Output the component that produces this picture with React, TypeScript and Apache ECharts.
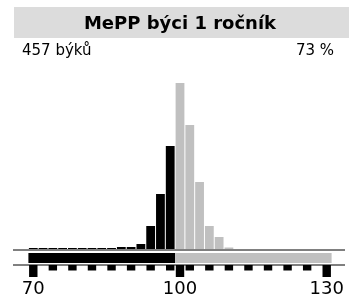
import React, { useEffect, useRef } from "react";
import * as echarts from "echarts";

const titleText = "MePP býci 1 ročník";
const countText = "457 býků";
const percentText = "73 %";

const categories = [
  "70", "72", "74", "76", "78", "80", "82", "84", "86", "88", "90", "92", "94", "96", "98",
  "100", "102", "104", "106", "108", "110", "112", "114", "116", "118", "120", "122", "124", "126", "128", "130",
];
const counts = [
  1, 1, 1, 1, 1, 1, 1, 1, 1, 2, 2, 5, 23, 55, 103,
  166, 124, 67, 23, 12, 1.5, 0, 0, 0, 0, 0, 0, 0, 0, 0, 0,
];
const splitValue = 100;
const rangeMin = 69;
const rangeSplit = 99;
const rangeMax = 131;
const minorTicks = ["70", "74", "78", "82", "86", "90", "94", "98", "102", "106", "110", "114", "118", "122", "126", "130"];
const majorTicks = ["70", "100", "130"];

const BLACK = "#000000";
const GRAY = "#c0c0c0";
const FONT = "DejaVu Sans";

export default function App() {
  const ref = useRef<HTMLDivElement>(null);
  useEffect(() => {
    if (!ref.current) return;
    const chart = echarts.init(ref.current, undefined, { renderer: "svg" });
    const sideColor = (c: string) => (Number(c) < splitValue ? BLACK : GRAY);
    const gridLeft = 28.4;
    const gridWidth = 303.2;
    const tickData = categories.map((c) =>
      majorTicks.includes(c) ? 12 : minorTicks.includes(c) ? 5.5 : 0
    );
    chart.setOption({
      animation: false,
      grid: [
        { left: gridLeft, width: gridWidth, top: 70, height: 179 },
        { left: gridLeft, width: gridWidth, top: 253, height: 10 },
        { left: gridLeft, width: gridWidth, top: 265, height: 12 },
      ],
      xAxis: [
        { type: "category", gridIndex: 0, data: categories, show: false },
        { type: "value", gridIndex: 1, min: rangeMin, max: rangeMax, show: false },
        {
          type: "category",
          gridIndex: 2,
          data: categories,
          axisLine: { show: false },
          axisTick: { show: false },
          splitLine: { show: false },
          axisLabel: {
            show: true,
            interval: (_idx: number, v: string) => majorTicks.includes(v),
            fontFamily: FONT,
            fontSize: 18,
            color: "#000",
            margin: 1,
          },
        },
      ],
      yAxis: [
        { type: "value", gridIndex: 0, min: 0, max: 179, show: false },
        { type: "category", gridIndex: 1, data: ["band"], show: false },
        { type: "value", gridIndex: 2, min: 0, max: 12, inverse: true, show: false },
      ],
      series: [
        {
          type: "bar",
          xAxisIndex: 0,
          yAxisIndex: 0,
          barCategoryGap: "10%",
          data: counts.map((v, i) => ({ value: v, itemStyle: { color: sideColor(categories[i]) } })),
        },
        {
          type: "bar",
          xAxisIndex: 1,
          yAxisIndex: 1,
          stack: "band",
          barWidth: "100%",
          itemStyle: { color: BLACK },
          data: [rangeSplit],
        },
        {
          type: "bar",
          xAxisIndex: 1,
          yAxisIndex: 1,
          stack: "band",
          barWidth: "100%",
          itemStyle: { color: GRAY },
          data: [rangeMax - rangeSplit],
        },
        {
          type: "bar",
          xAxisIndex: 2,
          yAxisIndex: 2,
          barCategoryGap: "14%",
          itemStyle: { color: BLACK },
          data: tickData,
        },
      ],
      graphic: [
        { type: "rect", shape: { x: 14, y: 7, width: 335, height: 31 }, style: { fill: "#dcdcdc" } },
        {
          type: "text",
          x: 180,
          y: 22,
          style: { text: titleText, fontFamily: FONT, fontWeight: "bold", fontSize: 18, fill: "#000", align: "center", verticalAlign: "middle" },
        },
        {
          type: "text",
          x: 22,
          y: 50,
          style: { text: countText, fontFamily: FONT, fontSize: 15, fill: "#000", align: "left", verticalAlign: "middle" },
        },
        {
          type: "text",
          x: 334,
          y: 50,
          style: { text: percentText, fontFamily: FONT, fontSize: 15, fill: "#000", align: "right", verticalAlign: "middle" },
        },
        { type: "line", shape: { x1: 13, y1: 250, x2: 345, y2: 250 }, style: { stroke: BLACK, lineWidth: 1 } },
        { type: "line", shape: { x1: 13, y1: 265, x2: 345, y2: 265 }, style: { stroke: BLACK, lineWidth: 1 } },
      ],
    });
    return () => chart.dispose();
  }, []);
  return <div ref={ref} style={{ position: "fixed", left: 0, top: 0, width: 349, height: 300 }} />;
}
